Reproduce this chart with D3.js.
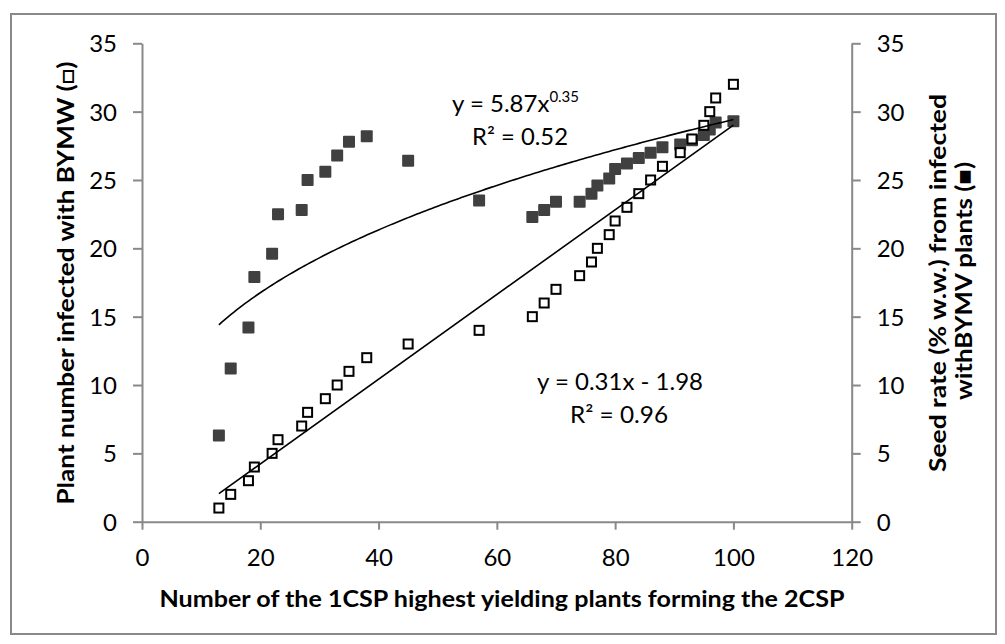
<!DOCTYPE html>
<html><head><meta charset="utf-8">
<script src="https://cdn.jsdelivr.net/npm/d3@7"></script>
<style>body{margin:0;background:#fff}text{font-family:Lato,"Open Sans",sans-serif;fill:#000}</style>
</head><body><svg id="c" width="1005" height="644"></svg>
<script>
// ---- data ----
const xValues = [13,15,18,19,22,23,27,28,31,33,35,38,45,57,66,68,70,74,76,77,79,80,82,84,86,88,91,93,95,96,97,100];
const infectedPlants = [1,2,3,4,5,6,7,8,9,10,11,12,13,14,15,16,17,18,19,20,21,22,23,24,25,26,27,28,29,30,31,32];
const seedRate = [6.3,11.2,14.2,17.9,19.6,22.5,22.8,25.0,25.6,26.8,27.8,28.2,26.4,23.5,22.3,22.8,23.4,23.4,24.0,24.6,25.1,25.8,26.2,26.6,27.0,27.4,27.6,27.9,28.3,28.7,29.2,29.3];
const xTicks = [0,20,40,60,80,100,120];
const yTicks = [0,5,10,15,20,25,30,35];
const powerCoef = [5.87, 0.35];     // y = a x^b
const linearCoef = [0.31, -1.98];   // y = m x + c
const trendRange = [13, 100];

const svg = d3.select("#c");
const axisColor = "#898989";

svg.append("rect").attr("x",11).attr("y",14).attr("width",985).attr("height",620)
  .attr("fill","#fff").attr("stroke",axisColor).attr("stroke-width",2);

const x = d3.scaleLinear().domain([0,120]).range([142,851.7]);
const y = d3.scaleLinear().domain([0,35]).range([521.7,43.3]);

function styleAxis(g){
  g.selectAll("path.domain").attr("stroke",axisColor).attr("stroke-width",2);
  g.selectAll(".tick line").attr("stroke",axisColor).attr("stroke-width",2);
  g.selectAll(".tick text").attr("font-size",24).attr("font-family","Lato").attr("fill","#000");
}

const gl = svg.append("g").attr("transform",`translate(${x(0)},0)`)
  .call(d3.axisLeft(y).tickValues(yTicks).tickSize(9).tickSizeOuter(0).tickPadding(16));
styleAxis(gl); gl.selectAll(".tick text").attr("dy","0.36em");

const gr = svg.append("g").attr("transform",`translate(${x(120)},0)`)
  .call(d3.axisRight(y).tickValues(yTicks).tickSize(9).tickSizeOuter(0).tickPadding(16));
styleAxis(gr); gr.selectAll(".tick text").attr("dy","0.36em");

const gb = svg.append("g").attr("transform",`translate(0,${y(0)})`)
  .call(d3.axisBottom(x).tickValues(xTicks).tickSize(8).tickSizeOuter(0));
styleAxis(gb); gb.selectAll(".tick text").attr("y",44.8).attr("dy","0");

// points
const pts = xValues.map((v,i)=>({x:v, a:infectedPlants[i], b:seedRate[i]}));
svg.append("g").selectAll("rect").data(pts).join("rect")
  .attr("x",d=>x(d.x)-6).attr("y",d=>y(d.b)-6).attr("width",12).attr("height",12)
  .attr("rx",1).attr("fill","#404040");
svg.append("g").selectAll("rect").data(pts).join("rect")
  .attr("x",d=>x(d.x)-4.5).attr("y",d=>y(d.a)-4.5).attr("width",9).attr("height",9)
  .attr("fill","#fff").attr("stroke","#000").attr("stroke-width",2);

// trend lines
const tx = d3.range(trendRange[0], trendRange[1]+0.001, 0.5);
const line = d3.line().x(d=>x(d[0])).y(d=>y(d[1]));
svg.append("path").datum(tx.map(v=>[v, powerCoef[0]*Math.pow(v,powerCoef[1])]))
  .attr("d",line).attr("fill","none").attr("stroke","#000").attr("stroke-width",1.6);
svg.append("path").datum(trendRange.map(v=>[v, linearCoef[0]*v+linearCoef[1]]))
  .attr("d",line).attr("fill","none").attr("stroke","#000").attr("stroke-width",1.6);

// equations
const eq1 = svg.append("text").attr("x",452).attr("y",112).attr("font-size",24);
eq1.append("tspan").text("y = 5.87x");
eq1.append("tspan").attr("font-size",15).attr("dy",-10).text("0.35");
svg.append("text").attr("x",472).attr("y",145).attr("font-size",24)
  .attr("textLength",96).attr("lengthAdjust","spacingAndGlyphs").text("R² = 0.52");
svg.append("text").attr("x",537).attr("y",390).attr("font-size",24)
  .attr("textLength",166).attr("lengthAdjust","spacingAndGlyphs").text("y = 0.31x - 1.98");
svg.append("text").attr("x",570).attr("y",423).attr("font-size",24)
  .attr("textLength",98).attr("lengthAdjust","spacingAndGlyphs").text("R² = 0.96");

// axis titles
svg.append("text").attr("x",502).attr("y",607).attr("text-anchor","middle")
  .attr("font-size",22).attr("font-weight","bold")
  .attr("textLength",685).attr("lengthAdjust","spacingAndGlyphs")
  .text("Number of the 1CSP highest yielding  plants forming the 2CSP");
svg.append("text").attr("transform","translate(74,283) rotate(-90)").attr("text-anchor","middle")
  .attr("font-size",22).attr("font-weight","bold")
  .attr("textLength",443).attr("lengthAdjust","spacingAndGlyphs")
  .text("Plant number infected with BYMW (□)");
svg.append("text").attr("transform","translate(946,283) rotate(-90)").attr("text-anchor","middle")
  .attr("font-size",22).attr("font-weight","bold")
  .attr("textLength",378).attr("lengthAdjust","spacingAndGlyphs")
  .text("Seed rate (% w.w.) from infected");
svg.append("text").attr("transform","translate(972,281) rotate(-90)").attr("text-anchor","middle")
  .attr("font-size",22).attr("font-weight","bold")
  .attr("textLength",238).attr("lengthAdjust","spacingAndGlyphs")
  .text("withBYMV plants (■)");
</script></body></html>
